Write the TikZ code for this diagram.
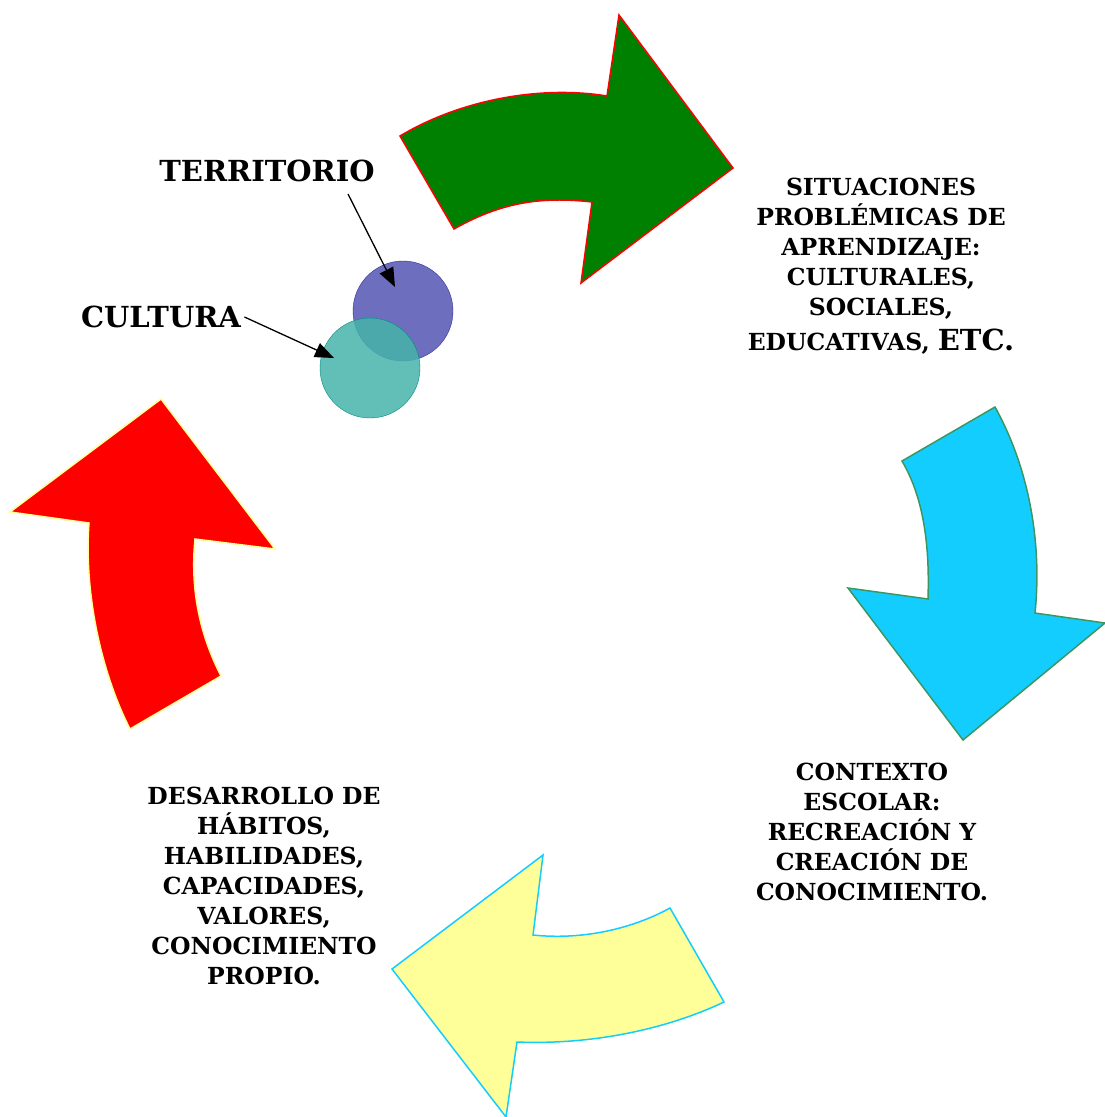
\documentclass[tikz,border=0pt]{standalone}
\usepackage{fontspec}
\setmainfont{DejaVu Serif}
\usetikzlibrary{arrows.meta}
\definecolor{verde}{RGB}{0,128,0}
\definecolor{celeste}{RGB}{20,205,255}
\definecolor{amarillo}{RGB}{255,255,153}
\definecolor{bordeverde}{RGB}{60,150,100}
\definecolor{azulc}{RGB}{110,110,190}
\definecolor{azulb}{RGB}{50,50,150}
\definecolor{tealc}{RGB}{70,180,170}
\definecolor{tealb}{RGB}{0,140,130}
\begin{document}
\begin{tikzpicture}[x=1pt,y=-1pt,
  flecha/.style={line width=1.5pt, line join=miter},
  texto/.style={align=center, font=\fontsize{23.5}{30}\selectfont\bfseries},
  rotulo/.style={font=\fontsize{29}{30}\selectfont\bfseries},
  puntero/.style={-{Triangle[length=19pt,width=15pt]}, line width=1.3pt}]
\useasboundingbox (0,0) rectangle (1105,1117);
%flechas del ciclo
\draw[flecha,draw=red,fill=verde] (400,136) .. controls (460,100) and (540,85) .. (607,96) -- (619,15) -- (733,168) -- (581,283) -- (592,202) .. controls (540,196) and (500,203) .. (454,229) -- cycle;
\draw[flecha,draw=bordeverde,fill=celeste] (995,407) -- (902,461) .. controls (922,495) and (930,540) .. (928,599) -- (848,588) -- (963,740) -- (1105,623) -- (1035,613) .. controls (1042,545) and (1030,470) .. cycle;
\draw[flecha,draw=celeste,fill=amarillo] (670,908) -- (724,1002) .. controls (665,1030) and (590,1045) .. (517,1042) -- (506,1117) -- (392,969) -- (543,855) -- (533,935) .. controls (580,940) and (630,930) .. cycle;
\draw[flecha,draw=amarillo,fill=red] (130,729) -- (221,676) .. controls (200,635) and (190,590) .. (195,539) -- (275,549) -- (161,399) -- (10,512) -- (89,523) .. controls (84,590) and (100,670) .. cycle;
%circulos
\node[circle, minimum size=100pt, inner sep=0pt, draw=azulb, fill=azulc] (terrc) at (403,311) {};
\node[circle, minimum size=100pt, inner sep=0pt, draw=tealb, fill=tealc, fill opacity=0.85] (cultc) at (370,368) {};
\node[rotulo] (terr) at (267,171) {TERRITORIO};
\node[rotulo] (cult) at (161,317) {CULTURA};
\coordinate (terrs) at (348,194);
\coordinate (terrp) at (395,287);
\coordinate (cultp) at (334,358);
\draw[puntero] (terrs) -- (terrp);
\draw[puntero] (cult.east) -- (cultp);
%textos
\node[texto] (sit) at (881,266) {SITUACIONES\\PROBLÉMICAS DE\\APRENDIZAJE:\\CULTURALES,\\SOCIALES,\\[5pt]EDUCATIVAS, {\fontsize{29}{30}\selectfont ETC.}};
\node[texto] (ctx) at (872,832) {CONTEXTO\\ESCOLAR:\\RECREACIÓN Y\\CREACIÓN DE\\CONOCIMIENTO.};
\node[texto] (des) at (264,886) {DESARROLLO DE\\HÁBITOS,\\HABILIDADES,\\CAPACIDADES,\\VALORES,\\CONOCIMIENTO\\PROPIO.};
\end{tikzpicture}
\end{document}
